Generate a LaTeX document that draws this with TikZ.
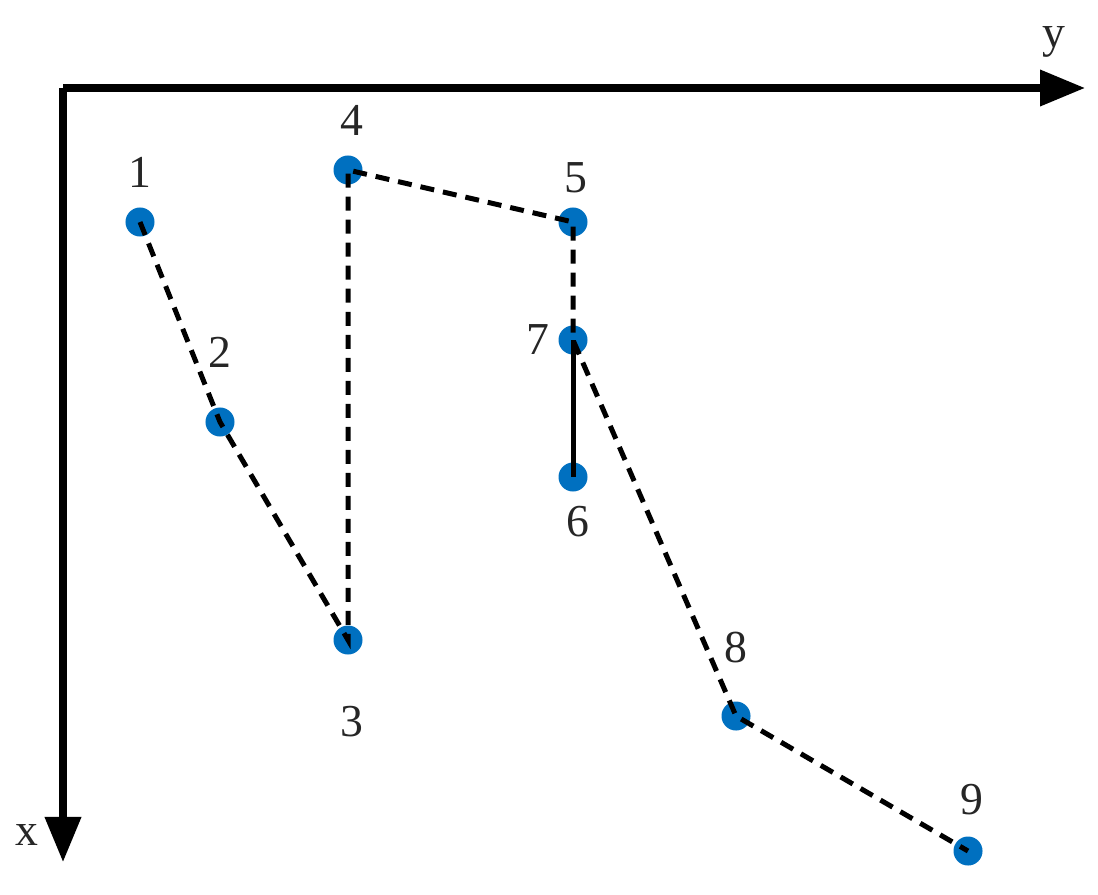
\documentclass[tikz,border=0pt]{standalone}
\usepackage{fontspec}
\setmainfont{Liberation Serif}
\usetikzlibrary{arrows.meta,positioning}
\definecolor{dotblue}{RGB}{0,112,192}
\tikzset{pt/.style={circle,fill=dotblue,inner sep=0pt,minimum size=2.9mm},
  lbl/.style={font=\fontsize{13}{15}\selectfont,text=black!85},
  route/.style={line width=0.5mm,dash pattern=on 1.4mm off 0.9mm}}
\begin{document}
\begin{tikzpicture}[x=0.01cm,y=-0.01cm]
  \useasboundingbox (0,0) rectangle (1098,894);
  % axes
  \coordinate (o) at (63,88);
  \coordinate (ye) at (1085,88);
  \coordinate (xe) at (63,862);
  \draw[line width=0.7mm,-{Triangle[length=4.5mm,width=3.5mm]}] (o) -- (ye);
  \draw[line width=0.7mm,-{Triangle[length=4.5mm,width=3.5mm]}] (o) -- (xe);
  \node[lbl] (ylab) at (1054,42) {y};
  \node[lbl] (xlab) at (27,835) {x};
  % points
  \node[pt] (p1) at (140,222) {};
  \node[pt] (p2) at (220,422) {};
  \node[pt] (p3) at (348,640) {};
  \node[pt] (p4) at (348,170) {};
  \node[pt] (p5) at (573,222) {};
  \node[pt] (p7) at (573,340) {};
  \node[pt] (p6) at (573,477) {};
  \node[pt] (p8) at (736,716) {};
  \node[pt] (p9) at (968,851) {};
  % labels
  \node[lbl] at (140,172) {1};
  \node[lbl] at (220,352) {2};
  \node[lbl] at (352,722) {3};
  \node[lbl] at (352,120) {4};
  \node[lbl] at (576,178) {5};
  \node[lbl] at (578,522) {6};
  \node[lbl] at (538,340) {7};
  \node[lbl] at (736,648) {8};
  \node[lbl] at (972,800) {9};
  % route
  \draw[route] (p1.center) -- (p2.center) -- (p3.center) -- (p4.center)
    -- (p5.center) -- (p7.center) -- (p8.center) -- (p9.center);
  \draw[line width=0.5mm] (p7.center) -- (p6.center);
\end{tikzpicture}
\end{document}
